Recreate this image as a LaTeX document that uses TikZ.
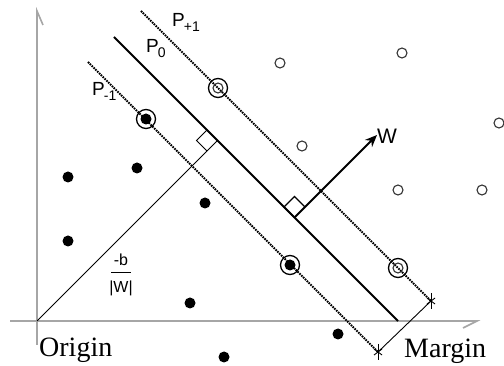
\documentclass[tikz,border=0pt]{standalone}
\usepackage{fontspec}
\setmainfont{Liberation Serif}
\setsansfont{Liberation Sans}
\usetikzlibrary{arrows.meta}

\newcommand{\psub}[1]{P\kern-1pt\raisebox{-5pt}{\fontsize{14}{14}\selectfont #1}}

\begin{document}
\begin{tikzpicture}[
    x=1pt, y=-1pt,
    axis/.style={draw=black!35, line width=1.6pt},
    plane/.style={line width=1.9pt},
    margplane/.style={line width=2pt, dash pattern=on 1.6pt off 1pt},
    thinline/.style={line width=0.9pt},
    negpt/.style={circle, fill=black, inner sep=0pt, minimum size=11pt},
    pospt/.style={circle, draw=black!80, line width=1.1pt, inner sep=0pt, minimum size=10pt},
    ring/.style={circle, draw=black, line width=1.3pt, inner sep=0pt, minimum size=19pt},
    lab/.style={font=\sffamily\fontsize{19}{20}\selectfont, inner sep=0pt},
    fraclab/.style={font=\sffamily\fontsize{16}{16}\selectfont, inner sep=0pt},
    bigtext/.style={font=\fontsize{28}{30}\selectfont, inner sep=0pt}
]
    \useasboundingbox (0,0) rectangle (504,366);

    % axes
    \coordinate (origin) at (37,321);
    \coordinate (ytop) at (37,11);
    \coordinate (ybot) at (37,345);
    \coordinate (xleft) at (10,321);
    \coordinate (xright) at (477,321);
    \draw[axis] (ybot) -- (ytop) -- ++(6,14);
    \draw[axis] (xleft) -- (xright) -- ++(-14,7);

    % hyperplanes
    \coordinate (pp1) at (141,11);   \coordinate (pp2) at (431,301);
    \coordinate (p01) at (114,37);   \coordinate (p02) at (398,321);
    \coordinate (pm1) at (88,62);    \coordinate (pm2) at (378,352);
    \draw[margplane] (pp1) -- (pp2);
    \draw[plane] (p01) -- (p02);
    \draw[margplane] (pm1) -- (pm2);

    % distance from origin and normal vector
    \coordinate (foot) at (217.5,140.5);
    \coordinate (wfoot) at (294.5,217.5);
    \coordinate (wtip) at (377,135);
    \draw[thinline] (origin) -- (foot);
    \draw[thinline] (foot) -- ++(-10.5,-10.5) -- ++(-10.5,10.5) -- ++(10.5,10.5);
    \draw[line width=1.3pt] (wfoot) -- ++(-10.5,-10.5) -- ++(10.5,-10.5) -- ++(10.5,10.5);
    \draw[line width=1.9pt, -{Stealth[length=12pt, width=10pt]}] (wfoot) -- (wtip);

    % margin
    \draw[thinline] (pm2) -- (pp2);
    \foreach \c in {pm2, pp2} {
        \draw[thinline] (\c) ++(0,-8) -- ++(0,16);
        \draw[thinline] (\c) ++(-4,-3) -- ++(8,6);
        \draw[thinline] (\c) ++(-4,3) -- ++(8,-6);
    }

    % data points
    \foreach \p [count=\i] in {(68,177), (137,168), (205,203), (68,241), (190,303), (224,357), (338,334), (146,119), (290,265)}
        \node[negpt] (n\i) at \p {};
    \foreach \p [count=\i] in {(280,63), (402,53), (302,146), (499,123), (398,190), (482,190), (218,88), (398,268)}
        \node[pospt] (o\i) at \p {};
    \foreach \s in {n8, n9, o7, o8}
        \node[ring] at (\s) {};

    % labels
    \node[lab, anchor=base west] (lp) at (172,27) {\psub{+1}};
    \node[lab, anchor=base west] (l0) at (146,53) {\psub{0}};
    \node[lab, anchor=base west] (lm) at (92,96) {\psub{-1}};
    \node[lab, font=\sffamily\fontsize{21}{21}\selectfont, anchor=base west] (lw) at (377,144) {W};
    \node[fraclab, anchor=base] (lnum) at (121,266) {-b};
    \node[fraclab, anchor=base] (lden) at (121,293) {|W|};
    \draw[line width=1pt] (111,272.5) -- (131,272.5);
    \node[bigtext, anchor=base west] (lorig) at (39,357) {Origin};
    \node[bigtext, anchor=base west] (lmarg) at (404,358) {Margin};
\end{tikzpicture}
\end{document}
